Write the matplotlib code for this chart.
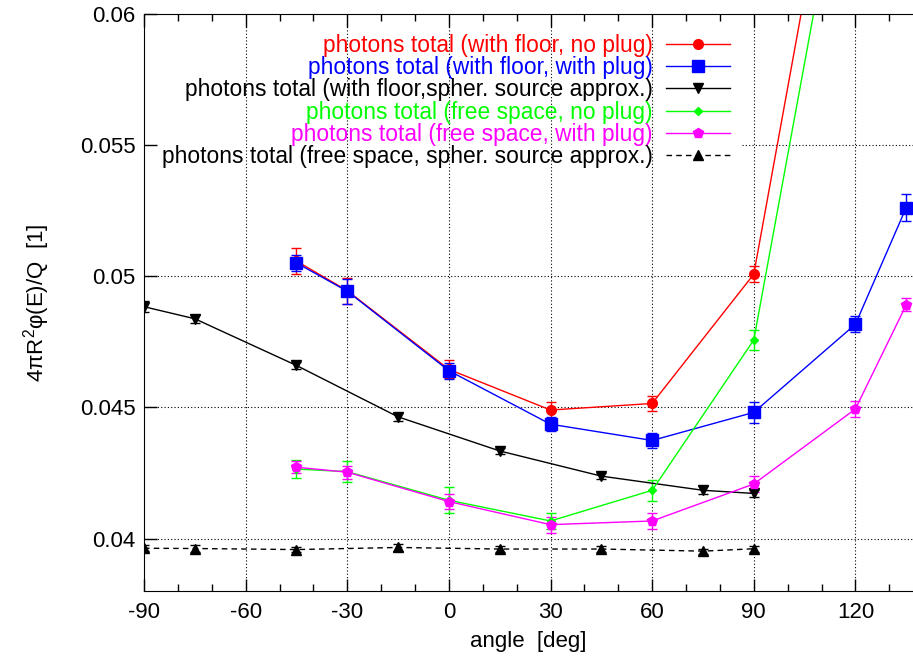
import matplotlib
matplotlib.use('Agg')
import matplotlib.pyplot as plt
from matplotlib.ticker import MultipleLocator, FuncFormatter

plt.rcParams['font.family'] = ['Liberation Sans', 'DejaVu Sans']
plt.rcParams['mathtext.fontset'] = 'custom'
plt.rcParams['mathtext.rm'] = 'Liberation Sans'
plt.rcParams['axes.unicode_minus'] = False

# angles [deg]
ang_a = [-45, -30, 0, 30, 60, 90, 120]
ang_b = [-45, -30, 0, 30, 60, 90, 120, 135]
ang_s = [-90, -75, -45, -15, 15, 45, 75, 90]

# with floor, no plug
red = [0.05058, 0.04945, 0.04645, 0.04490, 0.04515, 0.05008, 0.0714]
red_err = [0.0005, 0.0005, 0.00034, 0.0003, 0.0003, 0.0003, 0.0004]
# with floor, with plug
blue = [0.05051, 0.04943, 0.04640, 0.04436, 0.04374, 0.04481, 0.04817, 0.05262]
blue_err = [0.0003, 0.00047, 0.0003, 0.00027, 0.00027, 0.0004, 0.0003, 0.0005]
# with floor, spher. source approx.
blk = [0.04884, 0.04838, 0.04660, 0.04464, 0.04334, 0.04238, 0.04184, 0.04172]
blk_err = [0.0002, 0.00015, 0.00015, 0.00015, 0.00012, 0.00012, 0.00015, 0.00015]
# free space, no plug
green = [0.04265, 0.04255, 0.04146, 0.04067, 0.04184, 0.04757, 0.0687]
green_err = [0.00035, 0.0004, 0.0005, 0.0003, 0.0004, 0.0004, 0.0004]
# free space, with plug
mag = [0.04272, 0.04253, 0.04141, 0.04053, 0.04067, 0.04208, 0.04494, 0.04891]
mag_err = [0.00023, 0.00025, 0.0003, 0.0003, 0.0003, 0.0003, 0.0003, 0.00025]
# free space, spher. source approx.
blk2 = [0.03963, 0.03962, 0.03958, 0.03966, 0.03960, 0.03960, 0.03952, 0.03961]
blk2_err = [0.00012, 0.00015, 0.0001, 0.00012, 0.0001, 0.0001, 0.0001, 0.00012]

labels = ['photons total (with floor, no plug)',
          'photons total (with floor, with plug)',
          'photons total (with floor,spher. source approx.)',
          'photons total (free space, no plug)',
          'photons total (free space, with plug)',
          'photons total (free space, spher. source approx.)']

fig = plt.figure(figsize=(9.13, 6.62), dpi=100)
ax = fig.add_axes([144/913, 1-591/662, 1-144/913, (591-14)/662])

series = [
    (ang_a, red, red_err, '#ff0000', 'o', 7, '-'),
    (ang_b, blue, blue_err, '#0000ff', 's', 8, '-'),
    (ang_s, blk, blk_err, 'black', 'v', 6.5, '-'),
    (ang_a, green, green_err, '#00ff00', 'D', 4.5, '-'),
    (ang_b, mag, mag_err, '#ff00ff', 'p', 7, '-'),
    (ang_s, blk2, blk2_err, 'black', '^', 6.5, (0, (4, 3))),
]

handles = []
for (x, y, e, c, m, ms, ls), lab in zip(series, labels):
    cont = ax.errorbar(x, y, yerr=e, color=c, marker=m, ms=ms, ls=ls, lw=1,
                       elinewidth=1, capsize=3.5, capthick=1, label=lab)
    handles.append(cont.lines[0])

ax.set_xlim(-90, 137)
ax.set_ylim(0.038, 0.06)
ax.xaxis.set_major_locator(MultipleLocator(30))
ax.xaxis.set_minor_locator(MultipleLocator(10))
ax.yaxis.set_major_locator(MultipleLocator(0.005))
ax.yaxis.set_major_formatter(FuncFormatter(lambda v, p: '%g' % round(v, 4)))
ax.tick_params(which='both', direction='in', top=True, right=False, labelsize=16)
ax.tick_params(which='major', length=9, width=1)
ax.tick_params(which='minor', length=5, width=1)
ax.tick_params(axis='x', pad=8)
ax.tick_params(axis='y', pad=6)
ax.spines['right'].set_visible(False)

# grid (the 0.055 line is hidden behind the key)
for xv in [-60, -30, 0, 30, 60, 90, 120]:
    ax.axvline(xv, color='black', ls=(0, (1, 2)), lw=0.8, zorder=0)
for yv in [0.04, 0.045, 0.05]:
    ax.axhline(yv, color='black', ls=(0, (1, 2)), lw=0.8, zorder=0)
ax.axhline(0.055, xmin=(742-144)/769, color='black', ls=(0, (1, 2)), lw=0.8, zorder=0)

ax.set_xlabel('angle  [deg]', fontsize=16, labelpad=6)
ax.set_ylabel('4πR$^2$φ(E)/Q  [1]', fontsize=16, labelpad=20)

leg = ax.legend(handles=handles, labels=labels, loc='upper right',
                bbox_to_anchor=((730-144)/769, 1-20/577), frameon=False,
                markerfirst=False, numpoints=1, fontsize=16.4, labelcolor='linecolor',
                handlelength=2.8, handletextpad=0.6, labelspacing=-0.035,
                borderpad=0, borderaxespad=0)
for t in leg.get_texts():
    t.set_ha('right')
leg._legend_box.align = 'right'

fig.savefig('out.png', dpi=100)
